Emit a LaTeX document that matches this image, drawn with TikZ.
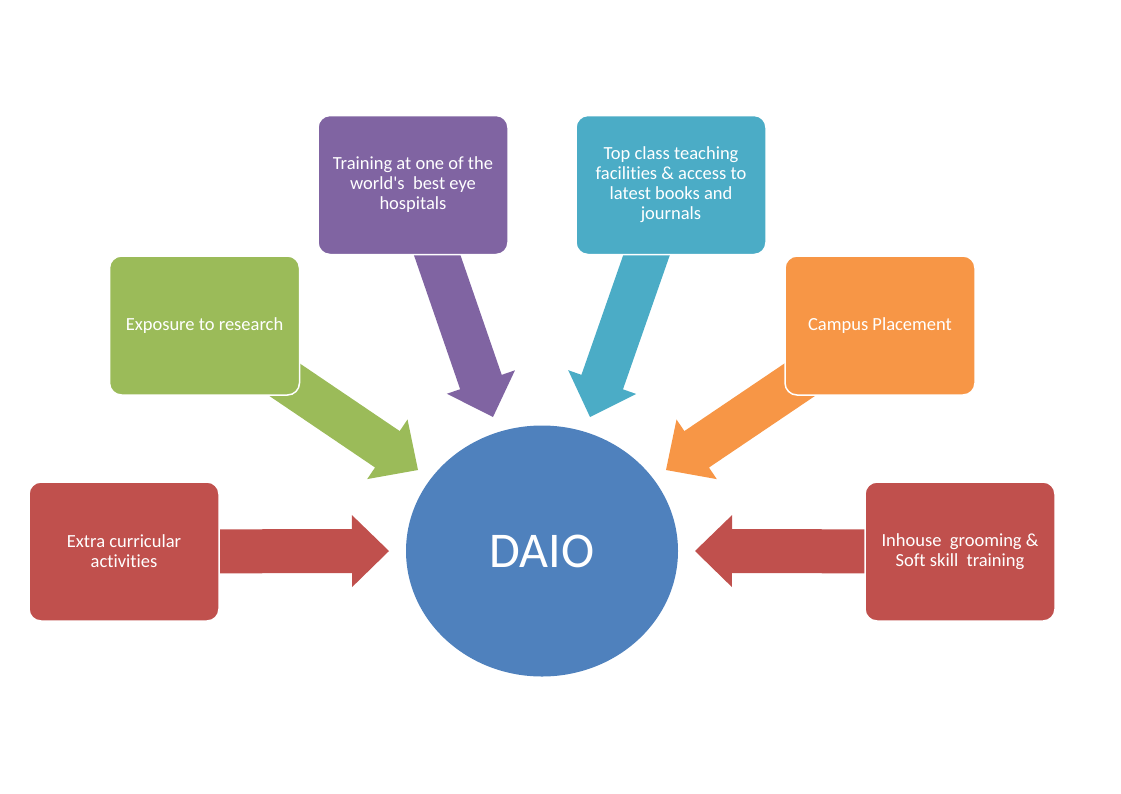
\documentclass[tikz,border=0pt]{standalone}
\usepackage{fontspec}
\setmainfont{Carlito}[Ligatures=NoCommon]
\usepackage{tikz}
\usetikzlibrary{shapes.geometric, calc, backgrounds}
\definecolor{daiored}{HTML}{C0504D}
\definecolor{daiogreen}{HTML}{9BBB59}
\definecolor{daiopurple}{HTML}{8064A2}
\definecolor{daioteal}{HTML}{4BACC6}
\definecolor{daioorange}{HTML}{F79646}
\definecolor{daioblue}{HTML}{4F81BD}
% block arrow: from, tip, colour
\newcommand{\bigarrow}[3]{%
  \coordinate (h) at ($(#2)!37pt!(#1)$);
  \fill[#3] ($(#1)!22pt!90:(#2)$) -- ($(h)!22pt!90:(#2)$) -- ($(h)!36pt!90:(#2)$) -- (#2)
    -- ($(h)!36pt!-90:(#2)$) -- ($(h)!22pt!-90:(#2)$) -- ($(#1)!22pt!-90:(#2)$) -- cycle;
}

\begin{document}
\begin{tikzpicture}[
    x=1pt, y=-1pt,
    every node/.style={font=\fontsize{18.5}{20}\selectfont, text=white},
    factbox/.style={rectangle, rounded corners=12pt, draw=white, fill=#1, line width=1.5pt, minimum width=190pt, minimum height=139pt, align=center},
]
\useasboundingbox (0,0) rectangle (1121,793);

\node[ellipse, fill=daioblue, minimum width=272pt, minimum height=251pt, inner sep=0pt, font=\fontsize{50}{58}\selectfont] (dai) at (542,551) {DAIO};

\node[factbox=daiored] (s1) at (124,551.5) {Extra curricular\\activities};
\node[factbox=daiogreen] (s2) at (204.5,325.5) {Exposure to research};
\node[factbox=daiopurple] (s3) at (413,185) {Training at one of the\\world\textquotesingle s~ best eye\\hospitals};
\node[factbox=daioteal] (s4) at (671,185) {Top class teaching\\facilities \& access to\\latest books and\\journals};
\node[factbox=daioorange] (s5) at (880,325.5) {Campus Placement};
\node[factbox=daiored] (s6) at (960,551.5) {Inhouse~ grooming \&\\Soft skill~ training};

% arrow tips in front of DAIO
\coordinate (t1) at (389,551);
\coordinate (t2) at (418,470);
\coordinate (t3) at (493,417);
\coordinate (t4) at (590,417);
\coordinate (t5) at (666,470);
\coordinate (t6) at (695,551);

\begin{scope}[on background layer]
\bigarrow{s1}{t1}{daiored}
\bigarrow{s2}{t2}{daiogreen}
\bigarrow{s3}{t3}{daiopurple}
\bigarrow{s4}{t4}{daioteal}
\bigarrow{s5}{t5}{daioorange}
\bigarrow{s6}{t6}{daiored}
\end{scope}

\end{tikzpicture}
\end{document}
